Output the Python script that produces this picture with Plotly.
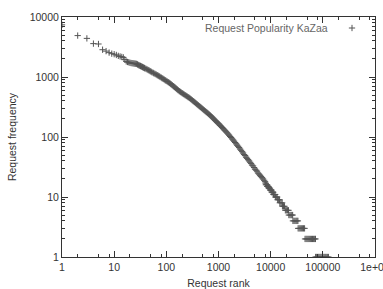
import plotly.graph_objects as go

# ---- data (rank, request frequency) ----
rank_head = [1, 2, 3, 4, 5, 6, 7, 8, 9, 10, 11, 12, 13, 14, 15, 16, 17, 18, 19, 20,
             21, 22, 23, 24, 25, 26, 27, 28, 29, 30, 31, 32]
freq_head = [7400, 4900, 4400, 3600, 3550, 2850, 2700, 2550, 2450, 2400, 2330, 2250,
             2200, 2160, 2120, 1950, 1820, 1780, 1760, 1730, 1710, 1700, 1690, 1680,
             1670, 1660, 1650, 1620, 1590, 1560, 1545, 1525]

rank_body = [33, 34, 35, 36, 37, 38, 39, 41, 43, 45, 47, 49, 51, 53, 56, 58, 61, 64,
             67, 70, 73, 76, 80, 83, 87, 91, 95, 99, 104, 109, 114, 119, 124, 130, 136,
             142, 148, 155, 162, 169, 177, 185, 193, 202, 211, 220, 230, 241, 252, 263,
             275, 287, 300, 314, 328, 343, 358, 374, 391, 409, 427, 446, 466, 487, 509,
             532, 556, 581, 607, 634, 663, 693, 724, 757, 791, 827, 864, 903, 943, 986,
             1030, 1076, 1125, 1175, 1228, 1283, 1341, 1402, 1465, 1531, 1600, 1672,
             1747, 1826, 1908, 1994, 2083, 2177, 2275, 2377, 2484, 2596, 2713, 2835,
             2963, 3096, 3235, 3381, 3533, 3692, 3858, 4032, 4213, 4402, 4600, 4808,
             5024, 5250, 5486, 5733, 5990, 6260, 6542, 6836, 7143, 7500, 7800, 8000]
freq_body = [1505, 1485, 1465, 1445, 1428, 1410, 1393, 1363, 1333, 1306, 1280, 1253,
             1227, 1200, 1172, 1148, 1124, 1098, 1072, 1050, 1028, 1002, 977, 954, 931,
             908, 885, 863, 841, 819, 798, 776, 754, 729, 704, 683, 663, 641, 620, 600,
             581, 565, 550, 536, 523, 510, 497, 484, 472, 460, 449, 436, 423, 409, 396,
             384, 372, 360, 349, 338, 327, 317, 307, 297, 288, 279, 270, 261, 253, 245,
             237, 229, 221, 213, 205, 197, 189, 182, 175, 169, 163, 156, 150, 144, 138,
             132, 127, 122, 117, 112, 107, 102, 98, 93, 89, 85, 81, 77, 73, 70, 67, 63,
             60, 57, 54, 51, 49, 46, 44, 42, 40, 38, 36, 34, 33, 31, 29, 28, 27, 25, 24,
             23, 22, 21, 20, 19, 18, 17]

rank_tail = [8100, 8350, 8550, 8600, 8850, 9100, 9200, 9450, 9700, 9800, 10150, 10400,
             10500, 10900, 11200, 11300, 11750, 12200, 12300, 12800, 13300, 13600, 14200,
             14800, 15000, 15800, 16600, 16800, 17600, 18400, 19100, 20000, 21000, 22000,
             22300, 23400, 24500, 25500, 26400, 26700, 28000, 29300, 30700, 32000, 33300,
             33600, 35200, 36900, 38700, 40600, 42600, 44700, 45600, 47800, 50100, 52500,
             55000, 57700, 60500, 63400, 66500, 69700, 72300, 72600, 76100, 79800, 83600,
             87700, 91900, 96300, 101000, 106000, 111000, 116000, 122000, 128000]
freq_tail = [16, 16, 16, 15, 15, 15, 14, 14, 14, 13, 13, 13, 12, 12, 12, 11, 11, 11,
             10, 10, 10, 9, 9, 9, 8, 8, 8, 7, 7, 7, 6, 6, 6, 6, 5, 5, 5, 5, 5,
             4, 4, 4, 4, 4, 4, 3, 3, 3, 3, 3, 3, 3, 2, 2, 2, 2, 2, 2, 2, 2, 2, 2, 2,
             1, 1, 1, 1, 1, 1, 1, 1, 1, 1, 1, 1, 1]

x_tick_vals = [1, 10, 100, 1000, 10000, 100000, 1000000]
x_tick_text = ["1", "10", "100", "1000", "10000", "100000", "1e+06"]
y_tick_vals = [1, 10, 100, 1000, 10000]
y_tick_text = ["1", "10", "100", "1000", "10000"]
x_minor_mult = [2, 5, 8]

series_name = "Request Popularity KaZaa"

assert len(rank_head) == len(freq_head)
assert len(rank_body) == len(freq_body)
assert len(rank_tail) == len(freq_tail)

ranks = rank_head + rank_body + rank_tail
freqs = freq_head + freq_body + freq_tail

FONT = "Liberation Sans, Arial, sans-serif"
MARK = "#555555"
AXC = "#333333"
W, H = 383, 289
ML, MR, MT, MB = 62, 8, 17, 32
PW, PH = W - ML - MR, H - MT - MB

marker_style = dict(symbol="cross-thin", size=4.5, color=MARK,
                    line=dict(width=1, color=MARK))

fig = go.Figure()
fig.add_trace(go.Scatter(
    x=ranks, y=freqs, mode="markers", name=series_name,
    marker=marker_style, showlegend=False,
))

# legend key (text on the left, symbol on the right, gnuplot style)
key_x, key_y = (352 - ML) / PW, (H - MB - 28) / PH
fig.add_trace(go.Scatter(
    x=[key_x], y=[key_y], mode="markers", marker=marker_style,
    xaxis="x2", yaxis="y2", showlegend=False, hoverinfo="skip",
))
fig.add_annotation(
    xref="paper", yref="paper", x=(330 - ML) / PW, y=key_y,
    xanchor="right", yanchor="middle", text=series_name, showarrow=False,
    font=dict(family=FONT, size=10.5, color="#666666"),
)

x_minor = [m * 10 ** d for d in range(6) for m in x_minor_mult]

axis_common = dict(
    showline=True, linecolor=AXC, linewidth=1, mirror="allticks",
    ticks="inside", ticklen=6, tickwidth=1, tickcolor=AXC,
    showgrid=False, zeroline=False,
    tickfont=dict(family=FONT, size=10.5, color="#333333"),
)

fig.update_layout(
    xaxis=dict(
        type="log", range=[0, 6], tickmode="array",
        tickvals=x_tick_vals, ticktext=x_tick_text, ticklabeloverflow="allow",
        minor=dict(tickmode="array", tickvals=x_minor, ticks="inside", ticklen=3,
                   tickcolor=AXC, showgrid=False),
        title=dict(text="Request rank",
                   font=dict(family=FONT, size=10.5, color="#333333"), standoff=9),
        **axis_common,
    ),
    yaxis=dict(
        type="log", range=[0, 4], tickmode="array",
        tickvals=y_tick_vals, ticktext=y_tick_text,
        minor=dict(dtick="D1", ticks="inside", ticklen=3, tickcolor=AXC,
                   showgrid=False),
        title=dict(text="Request frequency",
                   font=dict(family=FONT, size=10.5, color="#333333"), standoff=11),
        **axis_common,
    ),
    xaxis2=dict(overlaying="x", range=[0, 1], visible=False),
    yaxis2=dict(overlaying="y", range=[0, 1], visible=False),
    width=W, height=H,
    margin=dict(l=ML, r=MR, t=MT, b=MB, autoexpand=False),
    paper_bgcolor="white", plot_bgcolor="white",
    font=dict(family=FONT, size=10.5, color="#333333"),
    showlegend=False,
)

fig.write_html("out.html",
               config={"displayModeBar": False},
               post_script="document.body.style.margin='0';"
                           "document.body.style.overflow='hidden';")
